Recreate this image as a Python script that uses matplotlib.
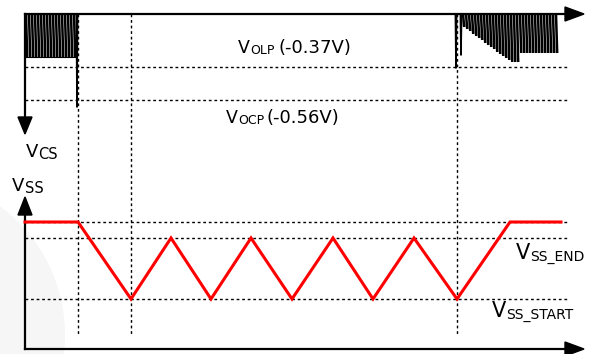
import matplotlib.pyplot as plt
from matplotlib.patches import Polygon, Circle

plt.rcParams['font.family'] = 'DejaVu Sans'

# diagram coordinates (pixel-like units, y grows downward)
t_origin = 25
t_end = 570
t_marks = [78, 131, 457]           # vertical dotted markers

# V_CS panel
cs_axis = 14
cs_levels = [67, 100]              # V_OLP, V_OCP
left_teeth_x = [26, 29, 32, 35, 38, 41, 44, 47, 50, 53, 56, 59, 62, 65, 68, 71, 74]
left_teeth_y = [57] * 17
right_teeth_x = [463, 466, 469, 472, 475, 478, 481, 484, 487, 490, 493, 496, 499, 502, 505,
                 508, 511, 514, 517, 520, 523, 526, 529, 532, 535, 538, 541, 544, 547, 550,
                 553, 556]
right_teeth_y = [27, 29, 31, 34, 36, 38, 40, 43, 45, 47, 49, 52, 54, 56, 58,
                 60, 62, 62, 62, 53, 53, 53, 53, 53, 53, 53, 53, 53, 53, 53,
                 53, 53]
spike_x = [77, 456, 461]
spike_y = [107, 68, 55]

# V_SS panel
ss_axis = 349
ss_levels = [222, 238, 299]        # top, V_SS_END, V_SS_START
vss_t = [25, 78, 131, 171, 211, 251, 292, 333, 373, 414, 457, 510, 561]
vss_v = [222, 222, 299, 238, 299, 238, 299, 238, 299, 238, 299, 222, 222]

# labels: (x, baseline, text, size)
labels = [
    (238, 53, 'V', 12.5), (250, 54, 'OLP', 9), (278, 53, '(-0.37V)', 13),
    (226, 123, 'V', 12.5), (238.5, 124, 'OCP', 9), (267, 123, '(-0.56V)', 13),
    (26, 157, 'V', 13), (38.5, 159, 'CS', 10.5),
    (12, 191, 'V', 13), (24.5, 193, 'SS', 10.5),
    (516, 259, 'V', 15), (530.5, 261, 'SS_END', 10),
    (492, 317, 'V', 15), (506.5, 319, 'SS_START', 10),
]

fig = plt.figure(figsize=(5.89, 3.54), dpi=100)
ax = fig.add_axes([0, 0, 1, 1])
ax.set_xlim(0, 589)
ax.set_ylim(354, 0)
ax.axis('off')

# faint background blob
ax.add_patch(Circle((-95, 335), 160, color='#f6f6f6', zorder=0, lw=0))

dot = dict(color='black', lw=1, linestyle=(0, (2, 2)), zorder=1)
for y in cs_levels + ss_levels:
    ax.plot([t_origin, 567], [y, y], **dot)
for x in t_marks:
    ax.plot([x, x], [cs_axis, 336], **dot)

# axes with arrows
ax.plot([t_origin, t_end], [cs_axis, cs_axis], color='black', lw=1.6, zorder=3)
ax.plot([t_origin, t_origin], [cs_axis, 120], color='black', lw=1.6, zorder=3)
ax.plot([t_origin, t_end], [ss_axis, ss_axis], color='black', lw=1.6, zorder=3)
ax.plot([t_origin, t_origin], [210, ss_axis], color='black', lw=1.6, zorder=3)
for tri in ([[565, 7], [565, 21], [584, 14]],
            [[565, 342], [565, 356], [584, 349]],
            [[18, 117], [32, 117], [25, 134]],
            [[18, 215], [32, 215], [25, 197]]):
    ax.add_patch(Polygon(tri, closed=True, color='black', zorder=4))


# V_CS switching waveform: one slanted stroke per switching cycle
def teeth(xs, ys):
    px, py = [], []
    for x, y in zip(xs, ys):
        px += [x, x + 1.2, None]
        py += [cs_axis, y, None]
    return px, py


px, py = teeth(left_teeth_x, left_teeth_y)
ax.plot(px, py, color='black', lw=1.8, zorder=2, solid_capstyle='butt')
ax.plot([left_teeth_x[0], left_teeth_x[-1] + 1.5], [57, 57], color='black', lw=0.8, zorder=2)
px, py = teeth(right_teeth_x, right_teeth_y)
ax.plot(px, py, color='black', lw=1.8, zorder=2, solid_capstyle='butt')
for x, y in zip(spike_x, spike_y):
    ax.plot([x - 0.6, x, x + 0.6], [cs_axis, y, cs_axis], color='black', lw=1.2, zorder=2)

# V_SS soft-start waveform
ax.plot(vss_t, vss_v, color='#ff0000', lw=2.2, zorder=5, solid_joinstyle='miter')

for x, y, s, size in labels:
    ax.text(x, y, s, fontsize=size, va='baseline', ha='left', color='black')

fig.savefig('out.png', dpi=100)
